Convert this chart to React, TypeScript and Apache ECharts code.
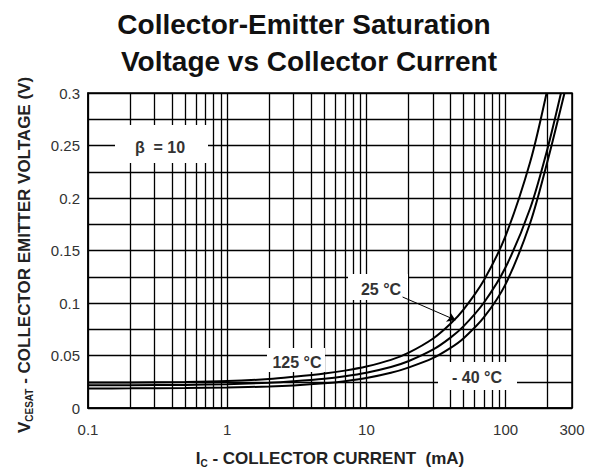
import React, { useEffect, useRef } from "react";
import * as echarts from "echarts";

// ---- data ----
const currents25 = [0.1, 0.2, 0.5, 1, 2, 3, 5, 7, 10, 15, 20, 30, 40, 50, 70, 100, 150, 197];
const vce25 = [0.0242, 0.0244, 0.0248, 0.0256, 0.0276, 0.0297, 0.0328, 0.0356, 0.0395, 0.0458, 0.0525, 0.066, 0.08, 0.094, 0.122, 0.164, 0.234, 0.3];

const currents125 = [0.1, 0.2, 0.5, 1, 2, 3, 5, 7, 10, 15, 20, 30, 40, 50, 70, 100, 150, 200, 250];
const vce125 = [0.0216, 0.0217, 0.022, 0.0227, 0.024, 0.0254, 0.0278, 0.0302, 0.0336, 0.039, 0.0445, 0.0555, 0.0668, 0.078, 0.1005, 0.134, 0.19, 0.247, 0.3];

const currentsM40 = [0.1, 0.2, 0.5, 1, 2, 3, 5, 7, 10, 15, 20, 30, 40, 50, 70, 100, 150, 200, 265];
const vceM40 = [0.0186, 0.0187, 0.019, 0.0195, 0.0205, 0.0215, 0.0235, 0.0255, 0.0285, 0.0335, 0.0385, 0.0475, 0.057, 0.0665, 0.0865, 0.118, 0.176, 0.235, 0.3];

const minorCurrentGrid = [0.2, 0.3, 0.4, 0.5, 0.6, 0.7, 0.8, 0.9, 2, 3, 4, 5, 6, 7, 8, 9, 20, 30, 40, 50, 60, 70, 80, 90, 200];

const arrowFrom = [18.2, 0.1057];
const arrowTo = [43.6, 0.0838];

const FONT = "'Liberation Sans', Arial, Helvetica, sans-serif";

export default function App() {
  const ref = useRef<HTMLDivElement>(null);
  useEffect(() => {
    if (!ref.current) return;
    const chart = echarts.init(ref.current, undefined, { renderer: "svg" });
    const pair = (xs: number[], ys: number[]) => xs.map((x, i) => [x, ys[i]]);
    const curveStyle = { color: "#000", width: 2 };
    const gridLine = { color: "#000", width: 1.3, type: "solid" as const };
    const richTitle = {
      m: { fontSize: 17, fontFamily: FONT, fontWeight: "bold", fill: "#222", color: "#222", lineHeight: 20, verticalAlign: "middle" },
      s: { fontSize: 10, fontFamily: FONT, fontWeight: "bold", fill: "#222", color: "#222", lineHeight: 20, verticalAlign: "bottom" },
    };

    chart.setOption({
      animation: false,
      backgroundColor: "#fff",
      grid: {
        left: 88,
        top: 93,
        right: 26,
        bottom: 59,
        show: true,
        borderColor: "#000",
        borderWidth: 1.5,
        backgroundColor: "transparent",
      },
      xAxis: {
        type: "log",
        logBase: 10,
        min: 0.1,
        max: 300,
        axisLine: { show: true, lineStyle: { color: "#000", width: 1.5 } },
        axisTick: { show: false },
        axisLabel: { color: "#333", fontSize: 15, fontFamily: FONT, margin: 14 },
        splitLine: { show: true, lineStyle: gridLine },
      },
      yAxis: {
        type: "value",
        min: 0,
        max: 0.3,
        interval: 0.05,
        axisLine: { show: true, lineStyle: { color: "#000", width: 1.5 } },
        axisTick: { show: false },
        axisLabel: { color: "#333", fontSize: 15, fontFamily: FONT, margin: 8 },
        splitLine: { show: true, lineStyle: gridLine },
        minorTick: { show: false, splitNumber: 2 },
        minorSplitLine: { show: true, lineStyle: gridLine },
      },
      series: [
        {
          name: "25 °C",
          type: "line",
          data: pair(currents25, vce25),
          smooth: 0.3,
          symbol: "none",
          z: 10,
          lineStyle: curveStyle,
          markLine: {
            silent: true,
            z: 12,
            symbol: ["none", "arrow"],
            symbolSize: 8,
            label: { show: false },
            lineStyle: { color: "#000", width: 1, type: "solid" },
            data: [[{ coord: arrowFrom }, { coord: arrowTo }]],
          },
        },
        {
          name: "125 °C",
          type: "line",
          data: pair(currents125, vce125),
          smooth: 0.3,
          symbol: "none",
          z: 10,
          lineStyle: curveStyle,
        },
        {
          name: "- 40 °C",
          type: "line",
          data: pair(currentsM40, vceM40),
          smooth: 0.3,
          symbol: "none",
          z: 10,
          lineStyle: curveStyle,
          markLine: {
            silent: true,
            z: 1,
            symbol: "none",
            label: { show: false },
            lineStyle: gridLine,
            data: minorCurrentGrid.map((v) => ({ xAxis: v })),
          },
        },
      ],
      graphic: [
        {
          type: "text",
          x: 304,
          y: 24,
          z: 20,
          style: {
            text: "Collector-Emitter Saturation",
            font: `bold 28px ${FONT}`,
            fill: "#111",
            align: "center",
            verticalAlign: "middle",
          },
        },
        {
          type: "text",
          x: 309,
          y: 61,
          z: 20,
          style: {
            text: "Voltage vs Collector Current",
            font: `bold 28px ${FONT}`,
            fill: "#111",
            align: "center",
            verticalAlign: "middle",
          },
        },
        // y axis title
        {
          type: "text",
          x: 24,
          y: 255,
          rotation: Math.PI / 2,
          z: 20,
          style: {
            text: "{m|V}{s|CESAT}{m| - COLLECTOR EMITTER VOLTAGE (V)}",
            align: "center",
            verticalAlign: "middle",
            rich: richTitle,
          },
        },
        // x axis title
        {
          type: "text",
          x: 330,
          y: 458,
          z: 20,
          style: {
            text: "{m|I}{s|C}{m| - COLLECTOR CURRENT  (mA)}",
            align: "center",
            verticalAlign: "middle",
            rich: richTitle,
          },
        },
        // annotation boxes
        { type: "rect", z: 5, shape: { x: 115, y: 125, width: 93, height: 38 }, style: { fill: "#fff" } },
        {
          type: "text", x: 160, y: 147, z: 20,
          style: { text: "β  = 10", font: `bold 16px ${FONT}`, fill: "#333", align: "center", verticalAlign: "middle" },
        },
        { type: "rect", z: 5, shape: { x: 348, y: 274, width: 60, height: 26 }, style: { fill: "#fff" } },
        {
          type: "text", x: 381, y: 289, z: 20,
          style: { text: "25 °C", font: `bold 16px ${FONT}`, fill: "#333", align: "center", verticalAlign: "middle" },
        },
        { type: "rect", z: 5, shape: { x: 267, y: 348, width: 58, height: 24 }, style: { fill: "#fff" } },
        {
          type: "text", x: 297, y: 362, z: 20,
          style: { text: "125 °C", font: `bold 16px ${FONT}`, fill: "#333", align: "center", verticalAlign: "middle" },
        },
        { type: "rect", z: 5, shape: { x: 438, y: 362, width: 79, height: 28 }, style: { fill: "#fff" } },
        {
          type: "text", x: 477, y: 377, z: 20,
          style: { text: "- 40 °C", font: `bold 16px ${FONT}`, fill: "#333", align: "center", verticalAlign: "middle" },
        },
      ],
    });
    return () => chart.dispose();
  }, []);
  return <div ref={ref} style={{ width: 598, height: 467, position: "absolute", left: 0, top: 0 }} />;
}
